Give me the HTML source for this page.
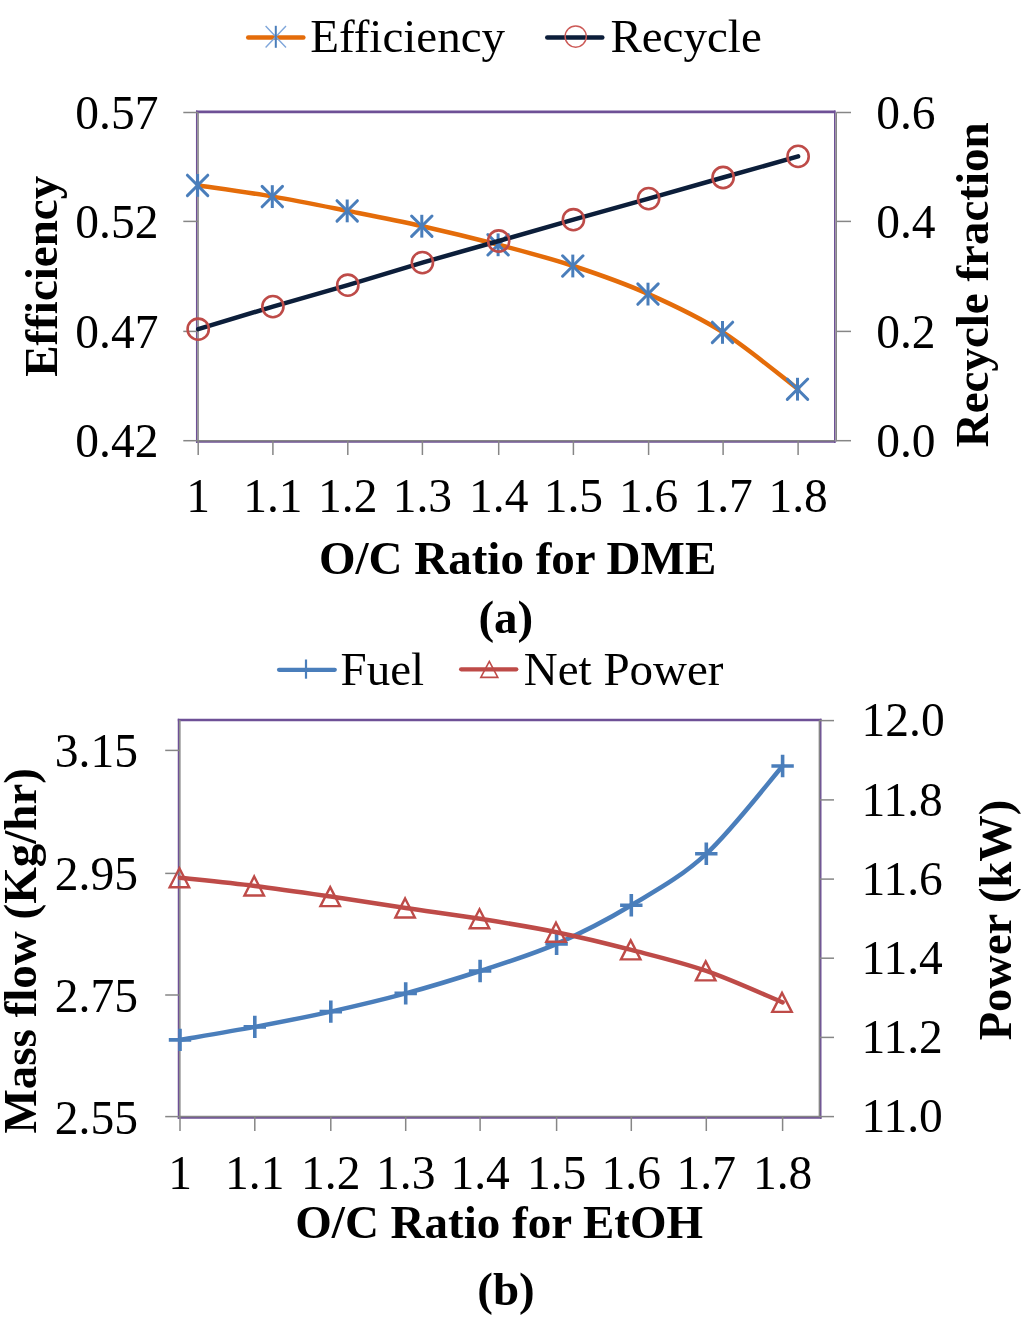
<!DOCTYPE html>
<html><head><meta charset="utf-8"><title>Chart</title>
<style>
html,body{margin:0;padding:0;background:#fff;}
body{width:1024px;height:1325px;overflow:hidden;}
svg{display:block;will-change:transform;}
text{font-family:"Liberation Serif",serif;fill:#000;font-variant-ligatures:none;font-kerning:normal;}
</style></head><body>
<svg width="1024" height="1325" viewBox="0 0 1024 1325">
<rect width="1024" height="1325" fill="#fff"/>
<g stroke="#6E5096" fill="none"><path d="M196.7,110.6 V443" stroke-width="1.5"/><path d="M834.75,110.6 V443" stroke-width="1.5"/><path d="M196,111.9 H835.5" stroke-width="2.6"/><path d="M196,441.9 H835.5" stroke-width="1.8"/></g>
<g stroke="#868686" stroke-width="1.5" fill="none">
<path d="M198.1,112.5 V441.4"/>
<path d="M836.25,112.5 V441.4"/>
<path d="M198.1,440.7 H834.8"/>
<path d="M183.3,112.5 H198.1"/>
<path d="M836.25,112.5 H851"/>
<path d="M183.3,221.4 H198.1"/>
<path d="M836.25,221.4 H851"/>
<path d="M183.3,331.4 H198.1"/>
<path d="M836.25,331.4 H851"/>
<path d="M183.3,440.7 H198.1"/>
<path d="M836.25,440.7 H851"/>
<path d="M198.2,440.7 V455"/>
<path d="M272.9,440.7 V455"/>
<path d="M347.8,440.7 V455"/>
<path d="M422.4,440.7 V455"/>
<path d="M498.7,440.7 V455"/>
<path d="M573.4,440.7 V455"/>
<path d="M648.6,440.7 V455"/>
<path d="M723.1,440.7 V455"/>
<path d="M798.1,440.7 V455"/>
</g>
<path d="M198.2,185.4 C210.65,187.27 247.97,192.35 272.9,196.6 C297.83,200.85 322.88,205.97 347.8,210.9 C372.72,215.83 397.25,220.55 422.4,226.2 C447.55,231.85 473.53,238.17 498.7,244.8 C523.87,251.43 548.42,257.78 573.4,266 C598.38,274.22 623.65,283.03 648.6,294.1 C673.55,305.17 698.18,316.55 723.1,332.4 C748.02,348.25 785.6,379.73 798.1,389.2" stroke="#E46C0A" stroke-width="4.5" fill="none" stroke-linejoin="round" stroke-linecap="round"/>
<path d="M187.4,175.2 L207.8,195.6 M187.4,195.6 L207.8,175.2" stroke="#4A7EBB" stroke-width="3" fill="none" stroke-linecap="round"/><path d="M197.6,174 L197.6,196.8" stroke="#4A7EBB" stroke-width="3" fill="none"/>
<path d="M262.1,186.4 L282.5,206.8 M262.1,206.8 L282.5,186.4" stroke="#4A7EBB" stroke-width="3" fill="none" stroke-linecap="round"/><path d="M272.3,185.2 L272.3,208" stroke="#4A7EBB" stroke-width="3" fill="none"/>
<path d="M337,200.7 L357.4,221.1 M337,221.1 L357.4,200.7" stroke="#4A7EBB" stroke-width="3" fill="none" stroke-linecap="round"/><path d="M347.2,199.5 L347.2,222.3" stroke="#4A7EBB" stroke-width="3" fill="none"/>
<path d="M411.6,216 L432,236.4 M411.6,236.4 L432,216" stroke="#4A7EBB" stroke-width="3" fill="none" stroke-linecap="round"/><path d="M421.8,214.8 L421.8,237.6" stroke="#4A7EBB" stroke-width="3" fill="none"/>
<path d="M487.9,234.6 L508.3,255 M487.9,255 L508.3,234.6" stroke="#4A7EBB" stroke-width="3" fill="none" stroke-linecap="round"/><path d="M498.1,233.4 L498.1,256.2" stroke="#4A7EBB" stroke-width="3" fill="none"/>
<path d="M562.6,255.8 L583,276.2 M562.6,276.2 L583,255.8" stroke="#4A7EBB" stroke-width="3" fill="none" stroke-linecap="round"/><path d="M572.8,254.6 L572.8,277.4" stroke="#4A7EBB" stroke-width="3" fill="none"/>
<path d="M637.8,283.9 L658.2,304.3 M637.8,304.3 L658.2,283.9" stroke="#4A7EBB" stroke-width="3" fill="none" stroke-linecap="round"/><path d="M648,282.7 L648,305.5" stroke="#4A7EBB" stroke-width="3" fill="none"/>
<path d="M712.3,322.2 L732.7,342.6 M712.3,342.6 L732.7,322.2" stroke="#4A7EBB" stroke-width="3" fill="none" stroke-linecap="round"/><path d="M722.5,321 L722.5,343.8" stroke="#4A7EBB" stroke-width="3" fill="none"/>
<path d="M787.3,379 L807.7,399.4 M787.3,399.4 L807.7,379" stroke="#4A7EBB" stroke-width="3" fill="none" stroke-linecap="round"/><path d="M797.5,377.8 L797.5,400.6" stroke="#4A7EBB" stroke-width="3" fill="none"/>
<path d="M198.2,329.2 L272.9,306.6 L347.8,285.2 L422.4,262.6 L498.7,241 L573.4,219.7 L648.6,198.6 L723.1,177.5 L798.1,156.4" stroke="#0C1E3A" stroke-width="4.5" fill="none" stroke-linejoin="round" stroke-linecap="round"/>
<circle cx="198.2" cy="329.2" r="10.6" stroke="#BE4B48" stroke-width="2.6" fill="none"/>
<circle cx="272.9" cy="306.6" r="10.6" stroke="#BE4B48" stroke-width="2.6" fill="none"/>
<circle cx="347.8" cy="285.2" r="10.6" stroke="#BE4B48" stroke-width="2.6" fill="none"/>
<circle cx="422.4" cy="262.6" r="10.6" stroke="#BE4B48" stroke-width="2.6" fill="none"/>
<circle cx="498.7" cy="241" r="10.6" stroke="#BE4B48" stroke-width="2.6" fill="none"/>
<circle cx="573.4" cy="219.7" r="10.6" stroke="#BE4B48" stroke-width="2.6" fill="none"/>
<circle cx="648.6" cy="198.6" r="10.6" stroke="#BE4B48" stroke-width="2.6" fill="none"/>
<circle cx="723.1" cy="177.5" r="10.6" stroke="#BE4B48" stroke-width="2.6" fill="none"/>
<circle cx="798.1" cy="156.4" r="10.6" stroke="#BE4B48" stroke-width="2.6" fill="none"/>
<path d="M248.2,37.5 H303.4" stroke="#E46C0A" stroke-width="4.4" stroke-linecap="round"/>
<path d="M265.6,26 L286,47.4 M265.6,47.4 L286,26" stroke="#7FA6DA" stroke-width="1.4"/>
<path d="M275.8,25.8 V47.8" stroke="#4A7EBB" stroke-width="2"/>
<text x="310.2" y="52.4" text-anchor="start" font-size="47">Efficiency</text>
<path d="M547.3,37.4 H602.3" stroke="#0C1E3A" stroke-width="4.5" stroke-linecap="round"/>
<circle cx="575.7" cy="36.6" r="10.6" stroke="#CC5A57" stroke-width="1.4" fill="none"/>
<text x="610.4" y="52.4" text-anchor="start" font-size="47">Recycle</text>
<text x="158.4" y="128.7" text-anchor="end" font-size="47.5">0.57</text>
<text x="158.4" y="237.6" text-anchor="end" font-size="47.5">0.52</text>
<text x="158.4" y="347.6" text-anchor="end" font-size="47.5">0.47</text>
<text x="158.4" y="456.9" text-anchor="end" font-size="47.5">0.42</text>
<text x="876.2" y="128.7" text-anchor="start" font-size="47.5">0.6</text>
<text x="876.2" y="237.6" text-anchor="start" font-size="47.5">0.4</text>
<text x="876.2" y="347.6" text-anchor="start" font-size="47.5">0.2</text>
<text x="876.2" y="456.9" text-anchor="start" font-size="47.5">0.0</text>
<text x="198.2" y="511.7" text-anchor="middle" font-size="47.5">1</text>
<text x="272.9" y="511.7" text-anchor="middle" font-size="47.5">1.1</text>
<text x="347.8" y="511.7" text-anchor="middle" font-size="47.5">1.2</text>
<text x="422.4" y="511.7" text-anchor="middle" font-size="47.5">1.3</text>
<text x="498.7" y="511.7" text-anchor="middle" font-size="47.5">1.4</text>
<text x="573.4" y="511.7" text-anchor="middle" font-size="47.5">1.5</text>
<text x="648.6" y="511.7" text-anchor="middle" font-size="47.5">1.6</text>
<text x="723.1" y="511.7" text-anchor="middle" font-size="47.5">1.7</text>
<text x="798.1" y="511.7" text-anchor="middle" font-size="47.5">1.8</text>
<text x="57.5" y="276.3" text-anchor="middle" font-size="47" font-weight="bold" transform="rotate(-90 57.5 276.3)">Efficiency</text>
<text x="987.9" y="284.8" text-anchor="middle" font-size="47" font-weight="bold" transform="rotate(-90 987.9 284.8)">Recycle fraction</text>
<text x="517.6" y="574.3" text-anchor="middle" font-size="47" font-weight="bold">O/C Ratio for DME</text>
<text x="505.8" y="632.8" text-anchor="middle" font-size="47" font-weight="bold">(a)</text>
<g stroke="#6E5096" fill="none"><path d="M178.45,718.8 V1118.8" stroke-width="1.4"/><path d="M820.75,718.8 V1118.8" stroke-width="1.5"/><path d="M177.8,720.1 H821.5" stroke-width="2.5"/><path d="M177.8,1117.9 H821.5" stroke-width="1.8"/></g>
<g stroke="#868686" stroke-width="1.5" fill="none">
<path d="M179.85,720 V1117.3"/>
<path d="M819.4,720.6 V1117.3"/>
<path d="M179.85,1116.6 H819.4"/>
<path d="M165.2,750.4 H179.85"/>
<path d="M165.2,873.4 H179.85"/>
<path d="M165.2,995 H179.85"/>
<path d="M165.2,1116.6 H179.85"/>
<path d="M819.4,720.6 H834"/>
<path d="M819.4,799.9 H834"/>
<path d="M819.4,879.1 H834"/>
<path d="M819.4,958.2 H834"/>
<path d="M819.4,1037.4 H834"/>
<path d="M819.4,1116.6 H834"/>
<path d="M180,1116.6 V1131"/>
<path d="M254.8,1116.6 V1131"/>
<path d="M330.8,1116.6 V1131"/>
<path d="M405.7,1116.6 V1131"/>
<path d="M480.1,1116.6 V1131"/>
<path d="M556.6,1116.6 V1131"/>
<path d="M631.3,1116.6 V1131"/>
<path d="M706.3,1116.6 V1131"/>
<path d="M782.6,1116.6 V1131"/>
</g>
<path d="M180,1039.9 C192.47,1037.73 229.67,1031.62 254.8,1026.9 C279.93,1022.18 305.65,1017.18 330.8,1011.6 C355.95,1006.02 380.82,1000.17 405.7,993.4 C430.58,986.63 454.95,979.25 480.1,971 C505.25,962.75 531.4,954.85 556.6,943.9 C581.8,932.95 606.35,920.32 631.3,905.3 C656.25,890.28 681.08,877.02 706.3,853.8 C731.52,830.58 769.88,780.63 782.6,766" stroke="#4A7EBB" stroke-width="4.5" fill="none" stroke-linejoin="round" stroke-linecap="round"/>
<path d="M168.8,1039.9 L191.2,1039.9 M180,1028.7 L180,1051.1" stroke="#4A7EBB" stroke-width="3.6" fill="none"/>
<path d="M243.6,1026.9 L266,1026.9 M254.8,1015.7 L254.8,1038.1" stroke="#4A7EBB" stroke-width="3.6" fill="none"/>
<path d="M319.6,1011.6 L342,1011.6 M330.8,1000.4 L330.8,1022.8" stroke="#4A7EBB" stroke-width="3.6" fill="none"/>
<path d="M394.5,993.4 L416.9,993.4 M405.7,982.2 L405.7,1004.6" stroke="#4A7EBB" stroke-width="3.6" fill="none"/>
<path d="M468.9,971 L491.3,971 M480.1,959.8 L480.1,982.2" stroke="#4A7EBB" stroke-width="3.6" fill="none"/>
<path d="M545.4,943.9 L567.8,943.9 M556.6,932.7 L556.6,955.1" stroke="#4A7EBB" stroke-width="3.6" fill="none"/>
<path d="M620.1,905.3 L642.5,905.3 M631.3,894.1 L631.3,916.5" stroke="#4A7EBB" stroke-width="3.6" fill="none"/>
<path d="M695.1,853.8 L717.5,853.8 M706.3,842.6 L706.3,865" stroke="#4A7EBB" stroke-width="3.6" fill="none"/>
<path d="M771.4,766 L793.8,766 M782.6,754.8 L782.6,777.2" stroke="#4A7EBB" stroke-width="3.6" fill="none"/>
<path d="M180,877.8 C192.47,879.17 229.67,882.87 254.8,886 C279.93,889.13 305.65,892.93 330.8,896.6 C355.95,900.27 380.82,904.3 405.7,908 C430.58,911.7 454.95,914.77 480.1,918.8 C505.25,922.83 531.4,927.02 556.6,932.2 C581.8,937.38 606.35,943.45 631.3,949.9 C656.25,956.35 681.08,962.15 706.3,970.9 C731.52,979.65 769.88,997.15 782.6,1002.4" stroke="#BE4B48" stroke-width="4.5" fill="none" stroke-linejoin="round" stroke-linecap="round"/>
<path d="M179.4,868.3 L189.15,887.3 L169.65,887.3 Z" stroke="#BE4B48" stroke-width="2.4" fill="none" stroke-linejoin="miter"/>
<path d="M254.2,876.5 L263.95,895.5 L244.45,895.5 Z" stroke="#BE4B48" stroke-width="2.4" fill="none" stroke-linejoin="miter"/>
<path d="M330.2,887.1 L339.95,906.1 L320.45,906.1 Z" stroke="#BE4B48" stroke-width="2.4" fill="none" stroke-linejoin="miter"/>
<path d="M405.1,898.5 L414.85,917.5 L395.35,917.5 Z" stroke="#BE4B48" stroke-width="2.4" fill="none" stroke-linejoin="miter"/>
<path d="M479.5,909.3 L489.25,928.3 L469.75,928.3 Z" stroke="#BE4B48" stroke-width="2.4" fill="none" stroke-linejoin="miter"/>
<path d="M556,922.7 L565.75,941.7 L546.25,941.7 Z" stroke="#BE4B48" stroke-width="2.4" fill="none" stroke-linejoin="miter"/>
<path d="M630.7,940.4 L640.45,959.4 L620.95,959.4 Z" stroke="#BE4B48" stroke-width="2.4" fill="none" stroke-linejoin="miter"/>
<path d="M705.7,961.4 L715.45,980.4 L695.95,980.4 Z" stroke="#BE4B48" stroke-width="2.4" fill="none" stroke-linejoin="miter"/>
<path d="M782,992.9 L791.75,1011.9 L772.25,1011.9 Z" stroke="#BE4B48" stroke-width="2.4" fill="none" stroke-linejoin="miter"/>
<path d="M279,669.8 H334.8" stroke="#4A7EBB" stroke-width="4.2" stroke-linecap="round"/>
<path d="M306,659.5 V678.7" stroke="#4A7EBB" stroke-width="2.2"/>
<text x="340.6" y="685" text-anchor="start" font-size="47">Fuel</text>
<path d="M461.1,669.3 H516.3" stroke="#BE4B48" stroke-width="4.2" stroke-linecap="round"/>
<path d="M489.3,661.4 L497.8,677.4 L480.8,677.4 Z" stroke="#BE4B48" stroke-width="1.6" fill="none" stroke-linejoin="miter"/>
<text x="523.8" y="685" text-anchor="start" font-size="47">Net Power</text>
<text x="137.9" y="767.3" text-anchor="end" font-size="47.5">3.15</text>
<text x="137.9" y="890.3" text-anchor="end" font-size="47.5">2.95</text>
<text x="137.9" y="1011.9" text-anchor="end" font-size="47.5">2.75</text>
<text x="137.9" y="1133.5" text-anchor="end" font-size="47.5">2.55</text>
<text x="861.5" y="736.3" text-anchor="start" font-size="47.5">12.0</text>
<text x="861.5" y="815.6" text-anchor="start" font-size="47.5">11.8</text>
<text x="861.5" y="894.8" text-anchor="start" font-size="47.5">11.6</text>
<text x="861.5" y="973.9" text-anchor="start" font-size="47.5">11.4</text>
<text x="861.5" y="1053.1" text-anchor="start" font-size="47.5">11.2</text>
<text x="861.5" y="1132.3" text-anchor="start" font-size="47.5">11.0</text>
<text x="180" y="1188.5" text-anchor="middle" font-size="47.5">1</text>
<text x="254.8" y="1188.5" text-anchor="middle" font-size="47.5">1.1</text>
<text x="330.8" y="1188.5" text-anchor="middle" font-size="47.5">1.2</text>
<text x="405.7" y="1188.5" text-anchor="middle" font-size="47.5">1.3</text>
<text x="480.1" y="1188.5" text-anchor="middle" font-size="47.5">1.4</text>
<text x="556.6" y="1188.5" text-anchor="middle" font-size="47.5">1.5</text>
<text x="631.3" y="1188.5" text-anchor="middle" font-size="47.5">1.6</text>
<text x="706.3" y="1188.5" text-anchor="middle" font-size="47.5">1.7</text>
<text x="782.6" y="1188.5" text-anchor="middle" font-size="47.5">1.8</text>
<text x="36" y="950.8" text-anchor="middle" font-size="47" font-weight="bold" transform="rotate(-90 36 950.8)">Mass flow (Kg/hr)</text>
<text x="1010.5" y="920" text-anchor="middle" font-size="46.5" font-weight="bold" transform="rotate(-90 1010.5 920)">Power (kW)</text>
<text x="499.2" y="1238.3" text-anchor="middle" font-size="47" font-weight="bold">O/C Ratio for EtOH</text>
<text x="506" y="1304.8" text-anchor="middle" font-size="47" font-weight="bold">(b)</text>
</svg>
</body></html>
